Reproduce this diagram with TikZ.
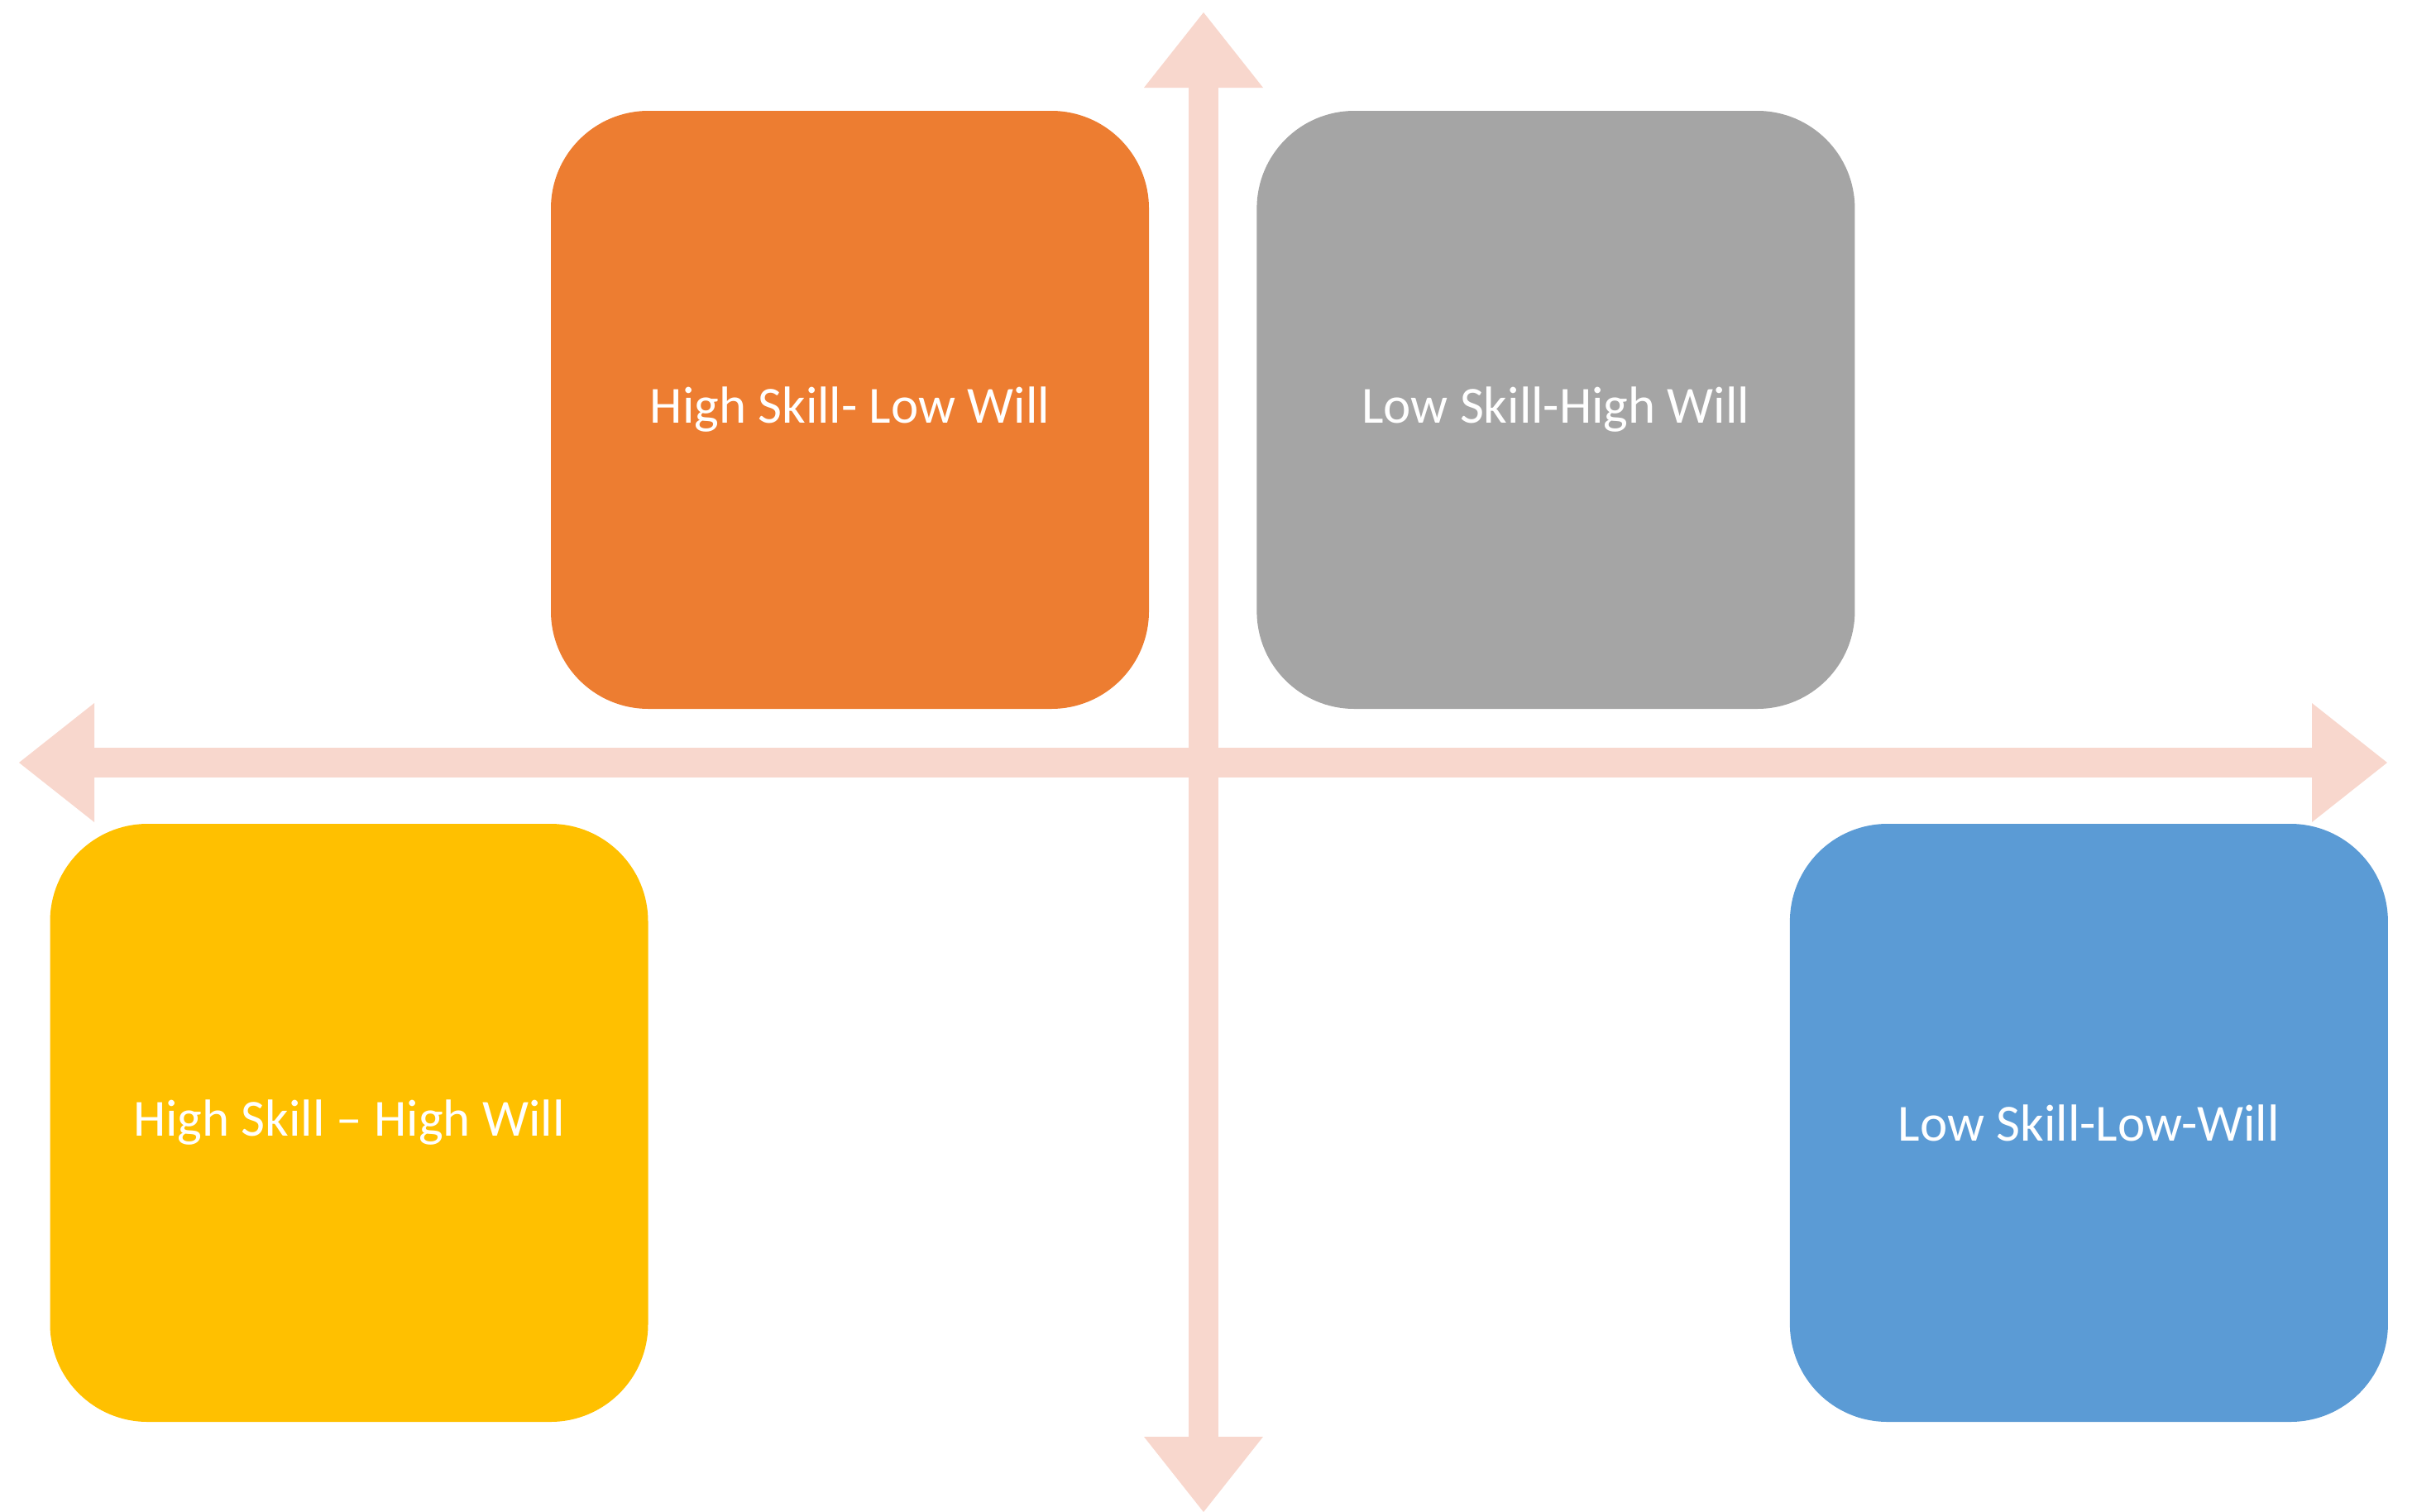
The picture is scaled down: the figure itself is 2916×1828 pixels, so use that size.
\documentclass[tikz,border=0pt]{standalone}
\usepackage{fontspec}
\setmainfont{Carlito}
\usepackage{tikz}
\usetikzlibrary{arrows.meta, positioning}

\definecolor{skorange}{HTML}{ED7D31}
\definecolor{skgray}{HTML}{A5A5A5}
\definecolor{skyellow}{HTML}{FFC000}
\definecolor{skblue}{HTML}{5B9BD5}
\definecolor{axispink}{HTML}{F8D7CD}

\begin{document}
\begin{tikzpicture}[
  x=1pt, y=-1pt,
  quad/.style={rounded corners=118pt, minimum width=723pt, minimum height=723pt,
               inner sep=0pt, text=white, font=\fontsize{63}{75}\selectfont},
  tip/.tip={Triangle[length=91pt, width=144pt, line width=0pt]},
  axis/.style={draw=axispink, line width=36pt, tip-tip},
]
  \useasboundingbox (0,0) rectangle (2916,1828);

  % axes
  \coordinate (top)    at (1455,15);
  \coordinate (bottom) at (1455,1828);
  \coordinate (left)   at (23,922);
  \coordinate (right)  at (2886,922);
  \draw[axis] (left) -- (right);
  \draw[axis] (bottom) -- (top);

  % quadrants
  \node[quad, fill=skorange] (hslw) at (1027.5,495.5) {High Skill- Low Will};
  \node[quad, fill=skgray, right=130pt of hslw] (lshw) {Low Skill-High Will};
  \node[quad, fill=skyellow] (hshw) at (422,1357.5) {High Skill -- High Will};
  \node[quad, fill=skblue, right=1380pt of hshw] (lslw) {Low Skill-Low-Will};
\end{tikzpicture}
\end{document}
